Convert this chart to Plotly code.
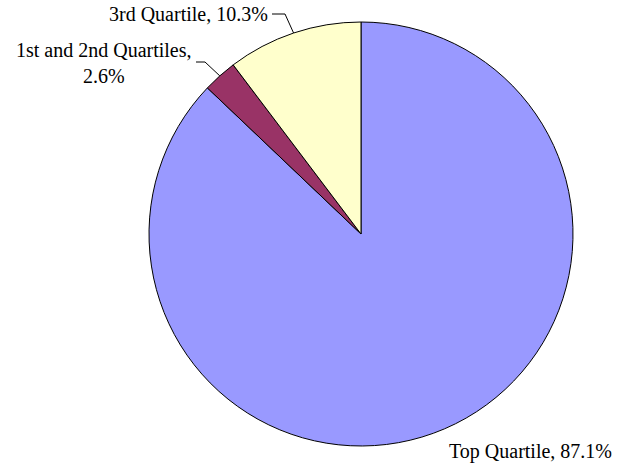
import math
import plotly.graph_objects as go

labels = ["Top Quartile", "1st and 2nd Quartiles", "3rd Quartile"]
values = [87.1, 2.6, 10.3]
colors = ["#9999FF", "#993366", "#FFFFCC"]

W, H = 617, 465
# pie placement in pixels
cx, cy, r = 361, 234, 212

fig = go.Figure()
fig.add_trace(
    go.Pie(
        labels=labels,
        values=values,
        sort=False,
        direction="clockwise",
        rotation=0,
        textinfo="none",
        hoverinfo="label+percent",
        marker=dict(colors=colors, line=dict(color="black", width=1)),
        domain=dict(x=[(cx - r) / W, (cx + r) / W], y=[1 - (cy + r) / H, 1 - (cy - r) / H]),
        showlegend=False,
    )
)


def px(x, y):
    return x / W, 1 - y / H


def edge_point(i):
    # mid angle of slice i, clockwise from 12 o'clock
    total = sum(values)
    start = sum(values[:i]) / total
    mid = (start + values[i] / total / 2) * 2 * math.pi
    return cx + r * math.sin(mid), cy - r * math.cos(mid)


font = dict(family="Liberation Serif", size=20, color="black")

# label text, anchor position and leader elbow (pixels)
label_specs = [
    (0, "Top Quartile, 87.1%", 614, 451, "right", None),
    (1, "1st and 2nd Quartiles,<br>2.6%", 194, 63, "right", (205, 62)),
    (2, "3rd Quartile, 10.3%", 270, 14, "right", (285, 14)),
]

shapes = []
annotations = []
for i, text, tx, ty, anchor, elbow in label_specs:
    ax, ay = px(tx, ty)
    annotations.append(
        dict(
            x=ax, y=ay, xref="paper", yref="paper", text=text, showarrow=False,
            xanchor=anchor, yanchor="middle", align="center", font=font,
        )
    )
    if elbow:
        ex, ey = edge_point(i)
        x0, y0 = px(tx + 2, elbow[1])
        x1, y1 = px(*elbow)
        x2, y2 = px(ex, ey)
        shapes.append(
            dict(
                type="path", xref="paper", yref="paper",
                path=f"M {x0} {y0} L {x1} {y1} L {x2} {y2}",
                line=dict(color="black", width=1),
            )
        )

fig.update_layout(
    width=W,
    height=H,
    margin=dict(l=0, r=0, t=0, b=0),
    paper_bgcolor="white",
    plot_bgcolor="white",
    annotations=annotations,
    shapes=shapes,
)

fig.write_html(
    "out.html",
    config={"displayModeBar": False},
    post_script="document.body.style.margin='0';",
)
